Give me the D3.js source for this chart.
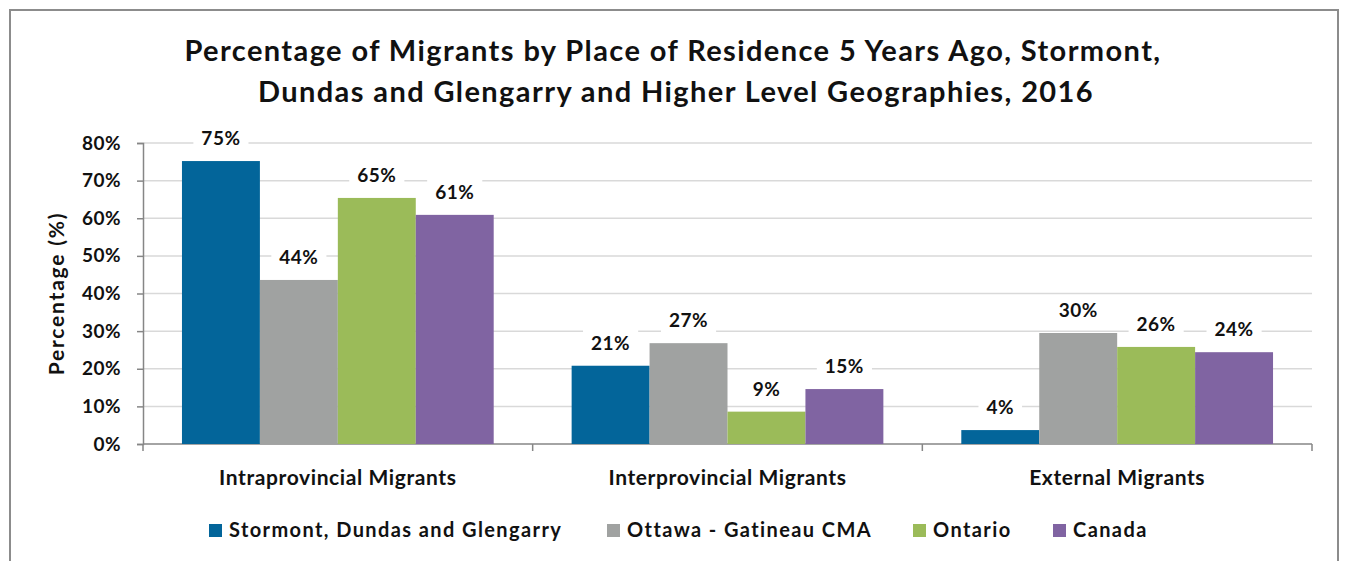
<html>
<head>
<title>Migrants by Place of Residence 5 Years Ago</title>
<script src="https://d3js.org/d3.v7.min.js" charset="utf-8"></script>
<style>
body { margin: 0; background: white; font-family: Lato, "Open Sans", sans-serif; }
text { font-weight: bold; fill: #111; }
</style>
</head>
<body>
<script>
// data
var categories = ["Intraprovincial Migrants", "Interprovincial Migrants", "External Migrants"];
var seriesNames = ["Stormont, Dundas and Glengarry", "Ottawa - Gatineau CMA", "Ontario", "Canada"];
var seriesColors = ["#03659a", "#a0a2a1", "#9bbb59", "#8064a2"];
var sdg = [75.2, 20.8, 3.7];
var ottawa = [43.6, 26.8, 29.5];
var ontario = [65.4, 8.6, 25.8];
var canada = [60.9, 14.6, 24.4];
var yTicks = [0, 10, 20, 30, 40, 50, 60, 70, 80];

var values = [sdg, ottawa, ontario, canada];

var width = 1348, height = 561;
var plotLeft = 143, plotRight = 1312, plotTop = 143, plotBottom = 444;

var svg = d3.select("body").append("svg")
  .attr("width", width)
  .attr("height", height);

// outer chart frame
svg.append("rect")
  .attr("x", 10).attr("y", 10)
  .attr("width", 1328).attr("height", 560)
  .attr("fill", "white")
  .attr("stroke", "#8c8c8c")
  .attr("stroke-width", 2);

var y = d3.scaleLinear().domain([0, 80]).range([plotBottom, plotTop]);
var x0 = d3.scaleBand().domain(categories).range([plotLeft, plotRight]).padding(0);
var x1 = d3.scaleBand().domain(seriesNames)
  .range([x0.bandwidth() * 0.1, x0.bandwidth() * 0.9]).padding(0);

// gridlines
svg.append("g").selectAll("line")
  .data(yTicks.filter(function(d) { return d > 0; }))
  .enter().append("line")
  .attr("x1", plotLeft).attr("x2", plotRight)
  .attr("y1", function(d) { return y(d); })
  .attr("y2", function(d) { return y(d); })
  .attr("stroke", "#d9d9d9")
  .attr("stroke-width", 1.5);

// y axis
var yAxis = d3.axisLeft(y).tickValues(yTicks)
  .tickFormat(function(d) { return d + "%"; })
  .tickSize(6).tickPadding(16);
var ya = svg.append("g").attr("transform", "translate(" + plotLeft + ",0)").call(yAxis);
ya.select(".domain").attr("stroke", "#868686").attr("stroke-width", 1.5);
ya.selectAll(".tick line").attr("stroke", "#868686").attr("stroke-width", 1.5);
ya.selectAll(".tick text")
  .attr("font-family", "Lato, sans-serif")
  .attr("font-size", 19)
  .attr("font-weight", "bold")
  .attr("letter-spacing", 0.5)
  .attr("fill", "#111");

// x axis baseline and category ticks
svg.append("line")
  .attr("x1", plotLeft).attr("x2", plotRight)
  .attr("y1", plotBottom).attr("y2", plotBottom)
  .attr("stroke", "#868686").attr("stroke-width", 1.5);
var tickXs = categories.map(function(c) { return x0(c); }).concat([plotRight]);
svg.append("g").selectAll("line")
  .data(tickXs)
  .enter().append("line")
  .attr("x1", function(d) { return d; }).attr("x2", function(d) { return d; })
  .attr("y1", plotBottom).attr("y2", plotBottom + 7)
  .attr("stroke", "#868686").attr("stroke-width", 1.5);

svg.append("g").selectAll("text")
  .data(categories)
  .enter().append("text")
  .attr("x", function(d) { return x0(d) + x0.bandwidth() / 2; })
  .attr("y", 485)
  .attr("text-anchor", "middle")
  .attr("font-size", 21)
  .attr("letter-spacing", 0.6)
  .text(function(d) { return d; });

// bars
var groups = svg.append("g").selectAll("g")
  .data(categories)
  .enter().append("g")
  .attr("transform", function(d) { return "translate(" + x0(d) + ",0)"; });

groups.selectAll("rect")
  .data(function(c, ci) {
    return seriesNames.map(function(s, si) { return {s: s, i: si, v: values[si][ci]}; });
  })
  .enter().append("rect")
  .attr("x", function(d) { return x1(d.s); })
  .attr("width", x1.bandwidth())
  .attr("y", function(d) { return y(d.v); })
  .attr("height", function(d) { return plotBottom - y(d.v); })
  .attr("fill", function(d) { return seriesColors[d.i]; });

// data labels with white boxes
var labels = groups.selectAll("g.lbl")
  .data(function(c, ci) {
    return seriesNames.map(function(s, si) { return {s: s, i: si, v: values[si][ci]}; });
  })
  .enter().append("g").attr("class", "lbl");

labels.append("rect").attr("fill", "white");
labels.append("text")
  .attr("x", function(d) { return x1(d.s) + x1.bandwidth() / 2; })
  .attr("y", function(d) { return y(d.v) - 16; })
  .attr("text-anchor", "middle")
  .attr("font-size", 19)
  .attr("letter-spacing", 0.5)
  .text(function(d) { return Math.round(d.v) + "%"; });
labels.each(function() {
  var g = d3.select(this);
  var b = g.select("text").node().getBBox();
  g.select("rect")
    .attr("x", b.x - 8).attr("y", b.y - 2)
    .attr("width", b.width + 16).attr("height", b.height + 4);
});

// y axis title
svg.append("text")
  .attr("transform", "translate(64," + (plotTop + plotBottom) / 2 + ") rotate(-90)")
  .attr("text-anchor", "middle")
  .attr("font-size", 21)
  .attr("letter-spacing", 1.8)
  .text("Percentage (%)");

// chart title
var title = svg.append("text")
  .attr("text-anchor", "middle")
  .attr("font-size", 29)
  .attr("letter-spacing", 1.4);
title.append("tspan").attr("x", 673).attr("y", 61)
  .text("Percentage of Migrants by Place of Residence 5 Years Ago, Stormont,");
title.append("tspan").attr("x", 676).attr("y", 102)
  .text("Dundas and Glengarry and Higher Level Geographies, 2016");

// legend
var legendX = [209, 607, 913, 1053];
var leg = svg.append("g").selectAll("g")
  .data(seriesNames)
  .enter().append("g")
  .attr("transform", function(d, i) { return "translate(" + legendX[i] + ",524)"; });
leg.append("rect")
  .attr("width", 13).attr("height", 13)
  .attr("fill", function(d, i) { return seriesColors[i]; });
leg.append("text")
  .attr("x", 20).attr("y", 13)
  .attr("font-size", 20)
  .attr("letter-spacing", 1.4)
  .text(function(d) { return d; });
</script>
</body>
</html>
